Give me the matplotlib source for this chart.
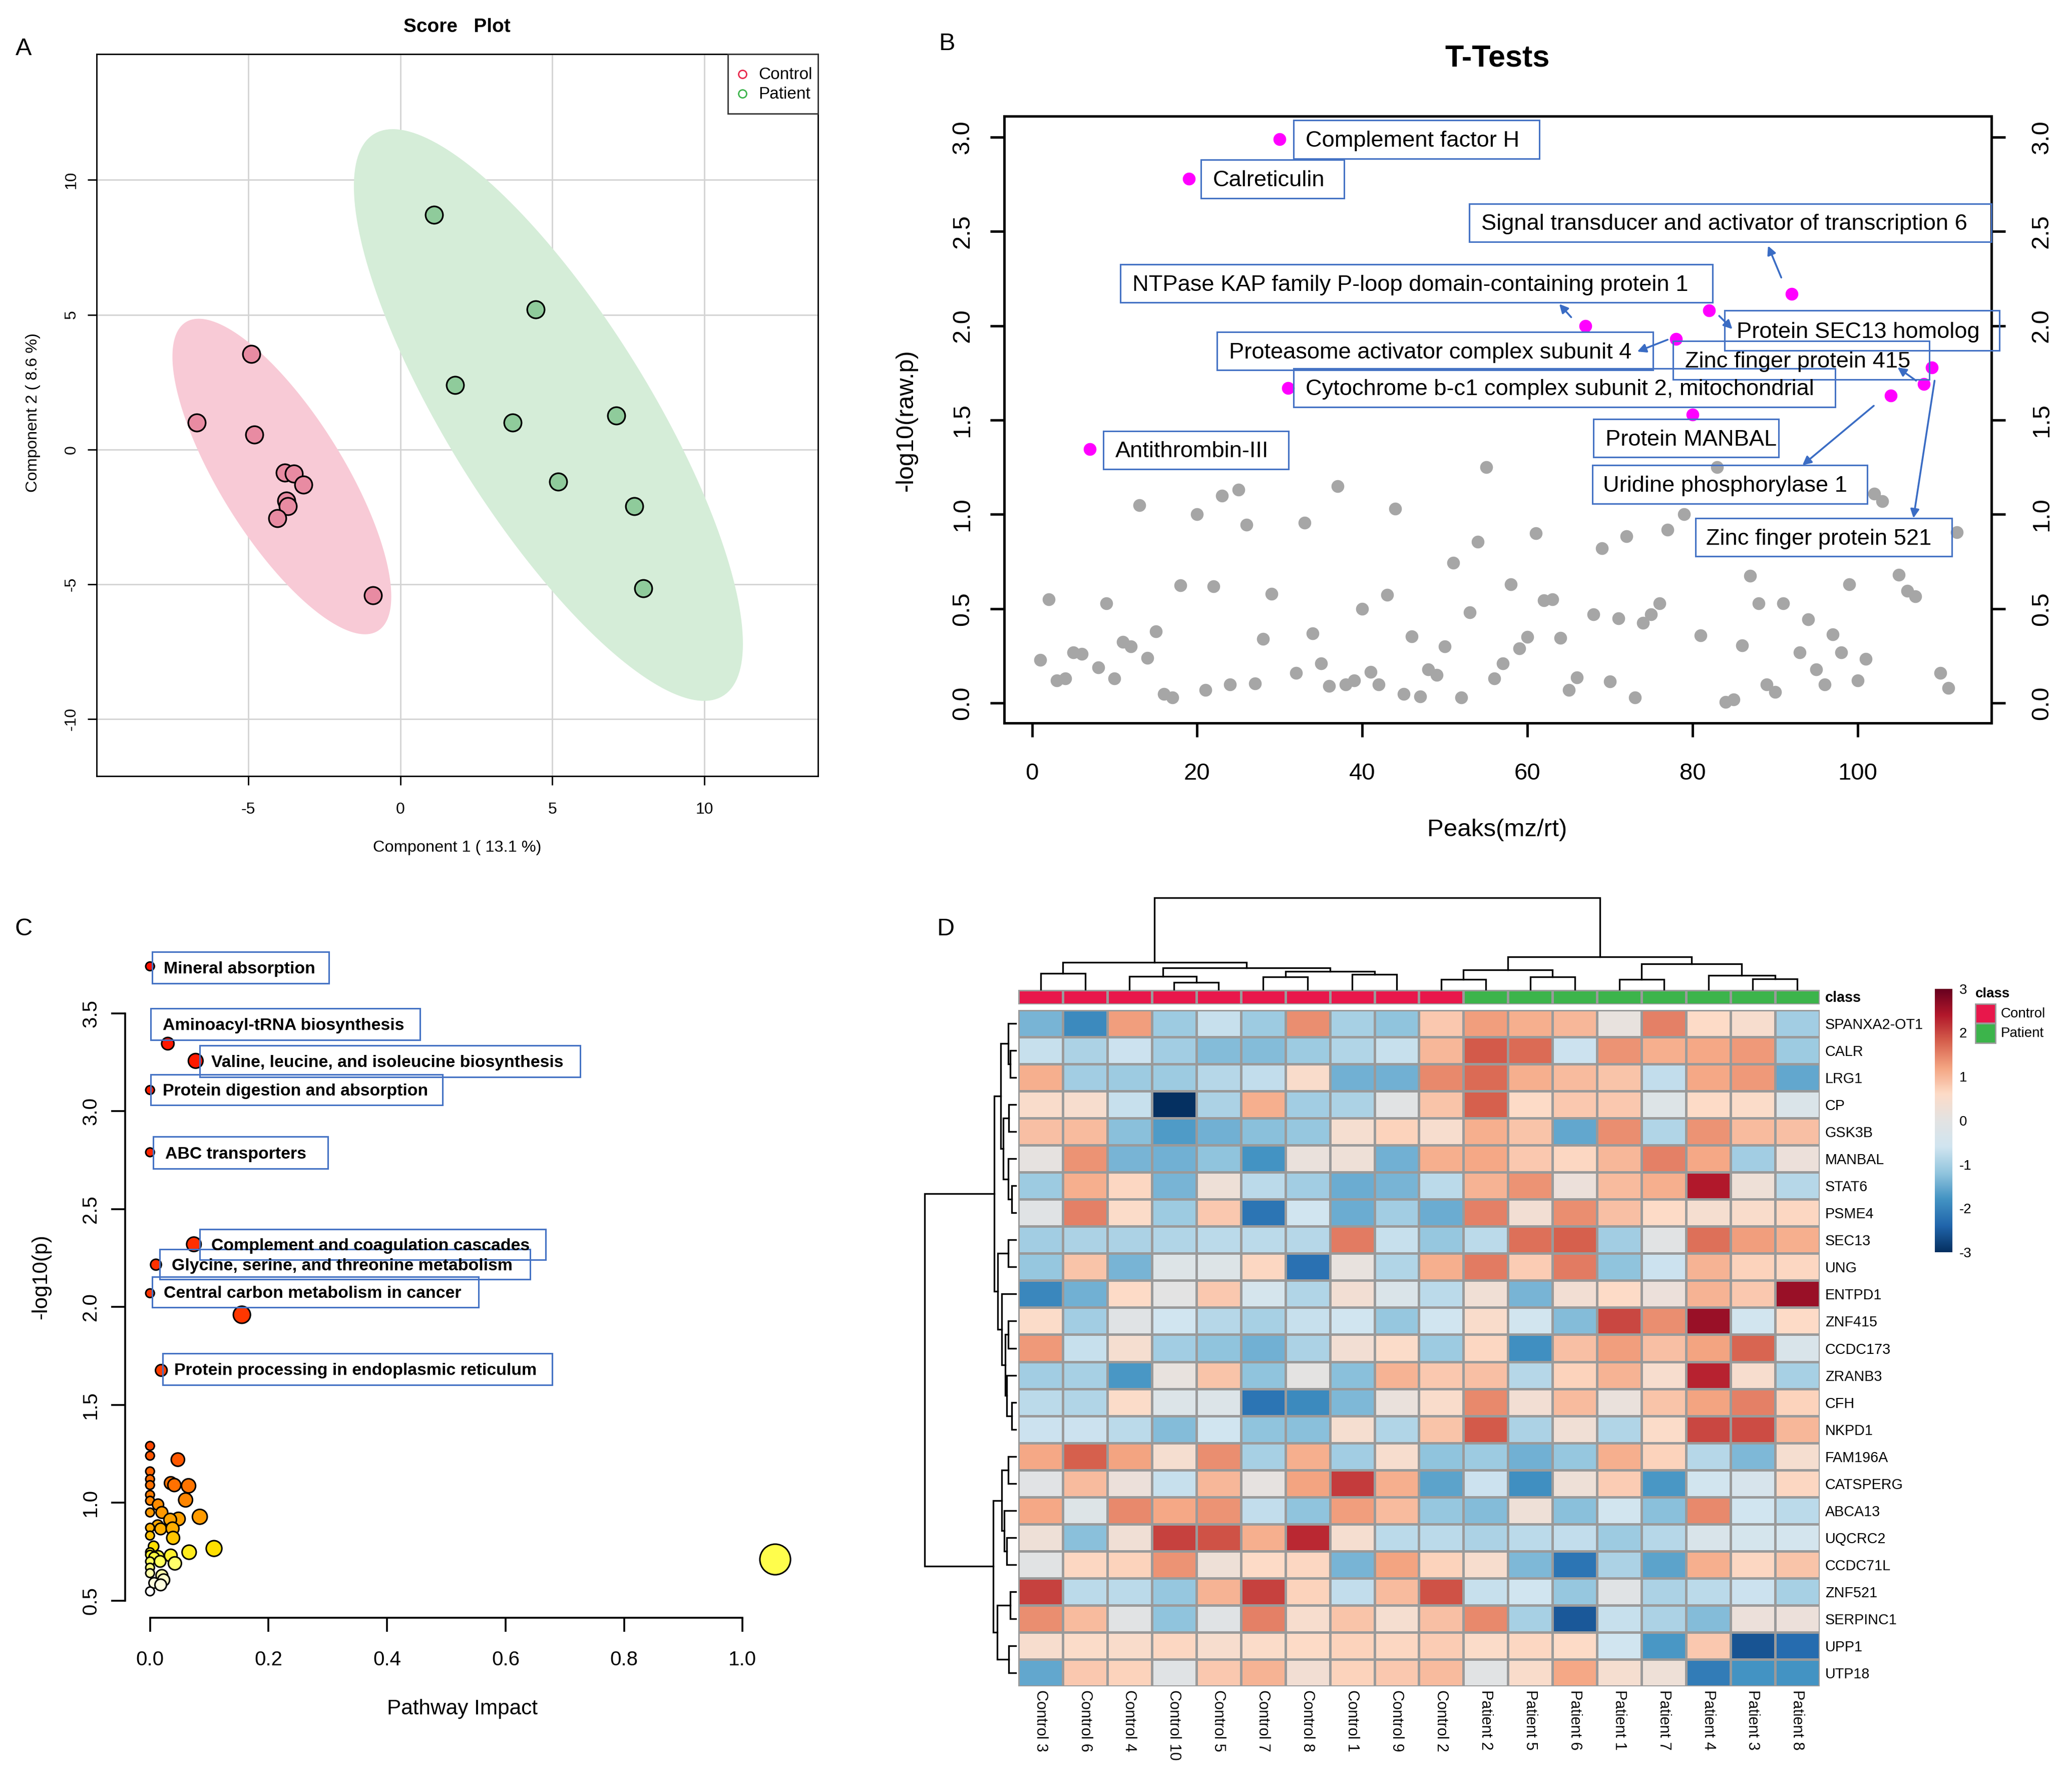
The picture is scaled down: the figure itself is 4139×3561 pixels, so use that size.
#!/usr/bin/env python3
"""Four panel figure: PLS-DA scores, t-tests, pathway impact and a clustered heatmap."""

import matplotlib
matplotlib.use("Agg")
import matplotlib.pyplot as plt
import numpy as np
from matplotlib.colors import LinearSegmentedColormap, Normalize
from matplotlib.patches import Rectangle

plt.rcParams["font.family"] = ["Liberation Sans", "DejaVu Sans"]
plt.rcParams["axes.unicode_minus"] = False

WIDTH, HEIGHT = 1568, 1349  # layout units, 2.64 output pixels each

# panel A
control_x = [-6.7, -4.9, -4.8, -3.8, -3.5, -3.2, -3.75, -3.7, -4.05, -0.9]
control_y = [1.0, 3.55, 0.55, -0.85, -0.9, -1.3, -1.9, -2.1, -2.55, -5.4]
patient_x = [1.1, 4.45, 1.8, 3.7, 7.1, 5.2, 7.7, 8.0]
patient_y = [8.7, 5.2, 2.4, 1.0, 1.25, -1.2, -2.1, -5.15]
# centre x, centre y, half width, half height, correlation
control_ellipse = (-3.9, -1.0, 3.6, 5.85, -0.76)
patient_ellipse = (4.87, 1.28, 6.4, 10.6, -0.8)

# panel B
grey_idx = [1, 2, 3, 4, 5, 6, 8, 9, 10, 11, 12, 13, 14, 15, 16, 17, 18, 20, 21, 22, 23, 24, 25, 26,
            27, 28, 29, 32, 33, 34, 35, 36, 37, 38, 39, 40, 41, 42, 43, 44, 45, 46, 47, 48, 49, 50,
            51, 52, 53, 54, 55, 56, 57, 58, 59, 60, 61, 62, 63, 64, 65, 66, 68, 69, 70, 71, 72, 73,
            74, 75, 76, 77, 79, 81, 83, 84, 85, 86, 87, 88, 89, 90, 91, 93, 94, 95, 96, 97, 98, 99,
            100, 101, 102, 103, 105, 106, 107, 110, 111, 112]
grey_p = [0.23, 0.55, 0.12, 0.13, 0.27, 0.26, 0.19, 0.53, 0.13, 0.325, 0.30, 1.05, 0.24, 0.38, 0.05,
          0.03, 0.625, 1.0, 0.07, 0.62, 1.10, 0.10, 1.13, 0.945, 0.105, 0.34, 0.58, 0.16, 0.955,
          0.37, 0.21, 0.09, 1.15, 0.10, 0.12, 0.50, 0.165, 0.10, 0.575, 1.03, 0.05, 0.355, 0.035,
          0.18, 0.15, 0.30, 0.745, 0.03, 0.48, 0.855, 1.25, 0.13, 0.21, 0.63, 0.29, 0.35, 0.90,
          0.545, 0.55, 0.345, 0.07, 0.135, 0.47, 0.82, 0.115, 0.45, 0.885, 0.03, 0.425, 0.47, 0.53,
          0.92, 1.0, 0.36, 1.25, 0.007, 0.02, 0.305, 0.675, 0.53, 0.10, 0.06, 0.53, 0.27, 0.445,
          0.18, 0.10, 0.365, 0.27, 0.63, 0.12, 0.235, 1.11, 1.07, 0.68, 0.595, 0.565, 0.16, 0.08,
          0.905]
hit_idx = [7, 19, 30, 31, 67, 78, 80, 82, 92, 104, 108, 109]
hit_p = [1.345, 2.78, 2.99, 1.67, 2.0, 1.93, 1.53, 2.08, 2.17, 1.63, 1.69, 1.78]

# box left, top, right, bottom, text left, label
protein_labels = [
    (979, 91, 1165, 120, 988, "Complement factor H"),
    (909, 121, 1017, 150, 918, "Calreticulin"),
    (1112, 154, 1507, 183, 1121, "Signal transducer and activator of transcription 6"),
    (848, 200, 1296, 229, 857, "NTPase KAP family P-loop domain-containing protein 1"),
    (1305, 235, 1513, 265, 1314, "Protein SEC13 homolog"),
    (921, 251, 1251, 280, 930, "Proteasome activator complex subunit 4"),
    (1266, 258, 1460, 287, 1275, "Zinc finger protein 415"),
    (979, 279, 1389, 308, 988, "Cytochrome b-c1 complex subunit 2, mitochondrial"),
    (1206, 317, 1346, 346, 1215, "Protein MANBAL"),
    (1205, 352, 1413, 381, 1213, "Uridine phosphorylase 1"),
    (1283, 392, 1477, 421, 1291, "Zinc finger protein 521"),
    (835, 326, 975, 355, 844, "Antithrombin-III"),
]
protein_arrows = [
    (1348, 210, 1338, 186), (1189, 240, 1180, 230), (1301, 239, 1311, 249),
    (1262, 257, 1239, 266), (1450, 288, 1436, 278), (1418, 307, 1364, 352),
    (1464, 288, 1448, 392),
]

# panel C
impact = [0, 0, 0.047, 0, 0, 0, 0.035, 0.041, 0.065, 0.06, 0, 0, 0.0135, 0, 0.02, 0.048, 0.034,
          0.084, 0.013, 0, 0.018, 0.038, 0, 0.039, 0.006, 0.108, 0.066, 0, 0, 0.014, 0.007, 0.035,
          0.017, 0.042, 0, 0, 0, 0.02, 0.023, 0.007, 0.018, 0, 0, 0.03, 0.077, 0, 0, 0.074, 0.01,
          0, 0.155, 0.019, 1.055]
log_p = [1.29, 1.24, 1.22, 1.16, 1.12, 1.09, 1.10, 1.09, 1.086, 1.014, 1.04, 1.01, 0.99, 0.95,
         0.95, 0.917, 0.913, 0.928, 0.883, 0.872, 0.866, 0.868, 0.832, 0.82, 0.777, 0.766, 0.747,
         0.747, 0.734, 0.726, 0.721, 0.73, 0.70, 0.69, 0.70, 0.668, 0.64, 0.628, 0.605, 0.59,
         0.58, 0.547, 3.74, 3.345, 3.257, 3.108, 2.79, 2.32, 2.216, 2.07, 1.96, 1.676, 0.71]
pathway_labels = [
    (115, 720, 249, 744, 124, "Mineral absorption"),
    (114, 763, 318, 787, 123, "Aminoacyl-tRNA biosynthesis"),
    (151, 791, 439, 815, 160, "Valine, leucine, and isoleucine biosynthesis"),
    (114, 813, 335, 836, 123, "Protein digestion and absorption"),
    (116, 860, 248, 884, 125, "ABC transporters"),
    (151, 930, 413, 953, 160, "Complement and coagulation cascades"),
    (121, 945, 401, 968, 130, "Glycine, serine, and threonine metabolism"),
    (115, 966, 362, 989, 124, "Central carbon metabolism in cancer"),
    (123, 1024, 418, 1048, 132, "Protein processing in endoplasmic reticulum"),
]

# panel D
samples = ["Control 3", "Control 6", "Control 4", "Control 10", "Control 5", "Control 7",
           "Control 8", "Control 1", "Control 9", "Control 2", "Patient 2", "Patient 5",
           "Patient 6", "Patient 1", "Patient 7", "Patient 4", "Patient 3", "Patient 8"]
genes = ["SPANXA2-OT1", "CALR", "LRG1", "CP", "GSK3B", "MANBAL", "STAT6", "PSME4", "SEC13", "UNG",
         "ENTPD1", "ZNF415", "CCDC173", "ZRANB3", "CFH", "NKPD1", "FAM196A", "CATSPERG", "ABCA13",
         "UQCRC2", "CCDC71L", "ZNF521", "SERPINC1", "UPP1", "UTP18"]
z_scores = [
    [-1.4, -1.9, 1.25, -1.1, -0.7, -1.1, 1.4, -1.0, -1.2, 0.8, 1.25, 1.1, 1.0, 0.1, 1.5, 0.6, 0.45, -1.05],
    [-0.7, -0.95, -0.65, -1.05, -1.3, -1.3, -1.1, -0.9, -0.7, 1.0, 1.85, 1.7, -0.65, 1.35, 1.1, 1.15, 1.3, -1.1],
    [1.1, -1.05, -1.1, -1.1, -0.85, -0.75, 0.5, -1.45, -1.45, 1.45, 1.7, 1.1, 0.95, 0.85, -0.75, 1.15, 1.3, -1.55],
    [0.5, 0.45, -0.7, -3.0, -0.95, 1.1, -1.05, -0.95, -0.05, 0.85, 1.8, 0.6, 0.8, 0.8, -0.2, 0.6, 0.55, -0.3],
    [0.9, 0.95, -1.25, -1.7, -1.45, -1.25, -1.15, 0.4, 0.7, 0.45, 1.1, 0.85, -1.55, 1.4, -0.9, 1.35, 0.95, 0.9],
    [0.05, 1.35, -1.4, -1.45, -1.2, -1.8, 0.15, 0.25, -1.45, 1.1, 1.15, 0.8, 0.65, 1.0, 1.5, 1.15, -1.05, 0.2],
    [-1.1, 1.1, 0.65, -1.4, 0.25, -0.8, -1.05, -1.5, -1.4, -0.8, 1.05, 1.35, 0.2, 0.95, 1.1, 2.4, 0.25, -0.85],
    [-0.1, 1.5, 0.55, -1.1, 0.8, -2.2, -0.6, -1.5, -1.05, -1.5, 1.5, 0.35, 1.4, 0.9, 0.6, 0.4, 0.5, 0.65],
    [-1.05, -0.95, -0.95, -0.9, -0.8, -0.8, -0.85, 1.55, -0.7, -1.15, -0.8, 1.65, 1.8, -1.05, -0.05, 1.65, 1.25, 1.1],
    [-1.15, 0.85, -1.4, -0.2, -0.2, 0.65, -2.25, 0.1, -0.9, 1.1, 1.55, 0.75, 1.55, -1.2, -0.65, 1.05, 0.7, 0.65],
    [-1.95, -1.45, 0.6, -0.02, 0.8, -0.45, -0.9, 0.35, -0.3, -0.8, 0.3, -1.4, 0.35, 0.6, 0.2, 1.05, 0.8, 2.6],
    [0.55, -1.05, -0.1, -0.6, -0.85, -1.0, -0.7, -0.6, -1.15, -0.6, 0.5, -0.55, -1.3, 2.0, 1.4, 2.6, -0.55, 0.6],
    [1.3, -0.7, 0.4, -1.05, -1.2, -1.45, -0.95, 0.35, 0.55, -1.1, 0.65, -1.85, 0.9, 1.25, 0.9, 1.2, 1.75, -0.35],
    [-1.05, -1.0, -1.75, 0.1, 0.85, -1.2, 0.02, -1.25, 1.05, 0.8, 0.9, -0.85, 0.7, 1.05, 0.45, 2.3, 0.45, -1.0],
    [-0.8, -0.9, 0.55, -0.25, -0.25, -2.2, -1.9, -1.35, 0.15, 0.5, 1.45, 0.35, 0.95, 0.15, 0.85, 1.2, 1.5, 0.7],
    [-0.65, -0.65, -0.8, -1.3, -0.6, -1.2, -1.25, 0.4, -0.9, 0.85, 1.85, -0.95, 0.3, -0.9, 0.55, 2.0, 1.95, 1.0],
    [1.15, 1.8, 1.2, 0.4, 1.4, -1.0, 1.1, -1.05, 0.45, -1.2, -1.1, -1.45, -1.15, 1.1, 0.7, -0.85, -1.35, 0.4],
    [-0.08, 0.95, 0.2, -0.7, 1.0, 0.05, 1.2, 2.1, 1.1, -1.6, -0.65, -1.85, 0.25, 0.75, -1.75, -0.55, -0.4, 0.65],
    [1.15, -0.2, 1.45, 1.15, 1.35, -0.75, -1.2, 1.25, 0.95, -1.15, -1.3, 0.25, -1.25, -0.55, -1.25, 1.45, -0.6, -0.8],
    [0.25, -1.25, 0.3, 2.05, 1.9, 1.1, 2.25, 0.4, -0.8, -0.8, -0.95, -0.8, -0.75, -1.1, -0.85, -0.35, -0.45, -0.5],
    [-0.05, 0.65, 0.7, 1.35, 0.25, 0.6, 0.65, -1.4, 1.2, 0.7, 0.45, -1.35, -2.2, -0.95, -1.6, 1.1, 0.65, 0.85],
    [2.05, -0.8, -0.8, -1.15, 1.05, 2.05, 0.7, -0.75, 0.95, 1.9, -0.7, -0.6, -1.15, -0.1, -0.95, -0.8, -0.65, -1.0],
    [1.4, 0.95, -0.05, -1.2, -0.1, 1.5, 0.45, 0.85, 0.4, 0.9, 1.45, -1.0, -2.55, -0.7, -0.95, -1.3, 0.2, 0.2],
    [0.45, 0.55, 0.5, 0.65, 0.45, 0.55, 0.6, 0.7, 0.65, 0.75, 0.55, 0.65, 0.6, -0.6, -1.75, 0.8, -2.6, -2.3],
    [-1.55, 0.8, 0.7, -0.1, 0.8, 1.05, 0.35, 0.7, 0.8, 0.95, -0.05, 0.5, 1.15, 0.4, 0.25, -2.1, -1.8, -1.8],
]
# dendrograms: child, child, merge height. Node ids continue after the leaves.
column_tree = [
    (0, 1, 12.1), (3, 4, 5.6), (2, 19, 10.1), (5, 6, 9.7), (7, 8, 11.4), (21, 22, 13.8),
    (20, 23, 16.4), (18, 24, 20.5), (9, 10, 7.7), (11, 12, 9.7), (26, 27, 15), (13, 14, 7.7),
    (16, 17, 8.2), (15, 30, 10.6), (29, 31, 19.3), (28, 32, 24.6), (25, 33, 69.6),
]
row_tree = [
    (1, 2, 4), (0, 25, 5.65), (3, 4, 5.1), (6, 7, 2.8), (5, 28, 5.65), (27, 29, 9.6),
    (26, 30, 11.3), (8, 9, 5.65), (11, 12, 5.65), (14, 15, 2.8), (13, 34, 6.8), (33, 35, 7.9),
    (10, 36, 10.5), (32, 37, 13.6), (31, 38, 16.4), (16, 17, 5.65), (19, 20, 6.8), (18, 41, 8.5),
    (40, 42, 10.7), (21, 22, 4), (23, 24, 5.1), (44, 45, 14.1), (43, 46, 17), (39, 47, 68.9),
]


def panel_axes(fig, left, top, right, bottom):
    return fig.add_axes([left / WIDTH, 1 - bottom / HEIGHT,
                         (right - left) / WIDTH, (bottom - top) / HEIGHT])


def ellipse_outline(cx, cy, hx, hy, rho):
    t = np.linspace(0, 2 * np.pi, 200)
    return cx + hx * np.cos(t), cy + hy * np.cos(t - np.arccos(rho))


def label_boxes(ov, labels, size, weight="normal"):
    for x0, y0, x1, y1, tx, name in labels:
        ov.add_patch(Rectangle((x0, y0), x1 - x0, y1 - y0, fc="none", ec="#4472C4", lw=2.2))
        ov.text(tx, (y0 + y1) / 2 + 1.2, name, fontsize=size, fontweight=weight, va="center")


def draw_score_plot(fig, ov):
    ax = panel_axes(fig, 73, 41, 619, 587)
    ax.set_xlim(-10, 13.74)
    ax.set_ylim(-12.1, 14.66)
    ax.grid(True, color="#D3D3D3", lw=2)
    ax.set_axisbelow(True)
    ax.fill(*ellipse_outline(*control_ellipse), color="#F8CAD6", lw=0, zorder=1.5)
    ax.fill(*ellipse_outline(*patient_ellipse), color="#D5EDD8", lw=0, zorder=1.5)
    ax.scatter(control_x, control_y, s=620, c="#E88BA2", edgecolors="black", lw=2.4, zorder=3)
    ax.scatter(patient_x, patient_y, s=620, c="#8FCB9B", edgecolors="black", lw=2.4, zorder=3)
    ax.set_xticks([-5, 0, 5, 10])
    ax.set_yticks([-10, -5, 0, 5, 10])
    ax.tick_params(labelsize=23, length=13, width=2, pad=12)
    ax.tick_params(axis="x", pad=25)
    for t in ax.get_yticklabels():
        t.set(rotation=90, va="center")
    for s in ax.spines.values():
        s.set_linewidth(2)
    # legend box sits in the panel corner
    ov.add_patch(Rectangle((551, 41), 68, 45, fc="white", ec="#333333", lw=2))
    for y, colour, name in ((56, "#E8274B", "Control"), (71, "#3CB44B", "Patient")):
        ov.plot([562], [y], ls="", marker="o", ms=11.5, mfc="none", mew=2, mec=colour)
        ov.text(574, y + 0.5, name, fontsize=24, va="center")
    ov.text(346, 20.5, "Score   Plot", fontsize=28, fontweight="bold", ha="center", va="center")
    ov.text(346, 641.5, "Component 1 ( 13.1 %)", fontsize=23.4, ha="center", va="center")
    ov.text(25, 312, "Component 2 ( 8.6 %)", fontsize=23.4, rotation=90, ha="center", va="center")


def draw_ttests(fig, ov):
    ax = panel_axes(fig, 760, 88, 1507, 547)
    ax.set_xlim(-3.36, 116.2)
    ax.set_ylim(-0.105, 3.11)
    ax.scatter(grey_idx, grey_p, s=340, c="#A6A6A6", lw=0)
    ax.scatter(hit_idx, hit_p, s=340, c="#FF00FF", lw=0)
    ax.set_xticks(range(0, 101, 20))
    ax.set_yticks(np.arange(0, 3.01, 0.5))
    ax.tick_params(axis="x", labelsize=34, length=20, width=3.5, pad=37)
    ax.tick_params(axis="y", labelsize=35, length=20, width=3.5, pad=24)
    for t in ax.get_yticklabels():
        t.set(rotation=90, va="center")
    right = ax.secondary_yaxis("right")
    right.set_yticks(np.arange(0, 3.01, 0.5))
    right.tick_params(labelsize=35, length=20, width=3.5, pad=36)
    for t in right.get_yticklabels():
        t.set(rotation=90, va="center")
    right.spines["right"].set_linewidth(3.5)
    for s in ax.spines.values():
        s.set_linewidth(3.5)
    ov.text(1133, 44.5, "T-Tests", fontsize=44, fontweight="bold", ha="center", va="center")
    ov.text(1133, 628, "Peaks(mz/rt)", fontsize=35.5, ha="center", va="center")
    ov.text(686, 318, "-log10(raw.p)", fontsize=35, rotation=90, ha="center", va="center")
    label_boxes(ov, protein_labels, 32.6)
    for x0, y0, x1, y1 in protein_arrows:
        ov.annotate("", xy=(x1, y1), xytext=(x0, y0),
                    arrowprops=dict(arrowstyle="-|>", color="#3A6CC4", lw=2.6,
                                    mutation_scale=26, shrinkA=0, shrinkB=0))


def draw_pathways(fig, ov):
    ax = panel_axes(fig, 94.7, 700, 640, 1224)
    ax.set_xlim(-0.042, 1.174)
    ax.set_ylim(0.412, 3.95)
    heat = LinearSegmentedColormap.from_list(
        "heat", [(0, "#FFFFFF"), (0.02, "#FFFFC8"), (0.05, "#FFFF50"), (0.07, "#FFE000"),
                 (0.1, "#FFB000"), (0.15, "#FF8000"), (0.24, "#FF4500"), (1, "#FF1000")])
    radius = (26 + 64 * np.sqrt(impact)) / 7.92  # layout units
    sizes = (2 * radius * 2.64 * 0.72) ** 2
    ax.scatter(impact, log_p, s=sizes, c=log_p, cmap=heat, norm=Normalize(0.54, 3.74),
               edgecolors="black", lw=2.2, clip_on=False)
    for name in ("top", "right"):
        ax.spines[name].set_visible(False)
    ax.spines["left"].set_bounds(0.5, 3.5)
    ax.spines["bottom"].set_bounds(0, 1)
    ax.spines["left"].set_linewidth(2.6)
    ax.spines["bottom"].set_linewidth(2.6)
    ax.patch.set_alpha(0)
    ax.set_xticks([0, 0.2, 0.4, 0.6, 0.8, 1.0])
    ax.set_yticks([0.5, 1, 1.5, 2, 2.5, 3, 3.5])
    ax.tick_params(labelsize=29, length=20, width=2.6, pad=16)
    ax.tick_params(axis="x", pad=27)
    for t in ax.get_yticklabels():
        t.set(rotation=90, va="center")
    ov.text(350, 1293, "Pathway Impact", fontsize=30.5, ha="center", va="center")
    ov.text(31, 966, "-log10(p)", fontsize=30.5, rotation=90, ha="center", va="center")
    label_boxes(ov, pathway_labels, 24.4, "bold")


def draw_tree(ax, tree, n_leaves, vertical):
    pos = {i: (i + 0.5, 0.0) for i in range(n_leaves)}
    for k, (a, b, h) in enumerate(tree):
        pa, ha = pos[a]
        pb, hb = pos[b]
        along = [pa, pa, pb, pb]
        depth = [ha, h, h, hb]
        if vertical:
            ax.plot(along, depth, color="black", lw=2.4, solid_joinstyle="miter", clip_on=False)
        else:
            ax.plot(depth, along, color="black", lw=2.4, solid_joinstyle="miter", clip_on=False)
        pos[n_leaves + k] = ((pa + pb) / 2, h)
    ax.axis("off")


def draw_heatmap(fig, ov):
    left, right, top, bottom = 770.6, 1377, 764, 1276
    cmap = LinearSegmentedColormap.from_list(
        "rdbu", ["#053061", "#2166AC", "#4393C3", "#92C5DE", "#D1E5F0", "#E3E3E3", "#FDDBC7",
                 "#F4A582", "#D6604D", "#B2182B", "#67001F"])
    ax = panel_axes(fig, left, top, right, bottom)
    ax.pcolormesh(np.array(z_scores), cmap=cmap, vmin=-3, vmax=3, edgecolors="#9A9A9A", lw=2.2)
    ax.set_ylim(len(genes), 0)
    ax.set_xticks(np.arange(len(samples)) + 0.5, samples, rotation=-90, fontsize=22)
    ax.set_yticks(np.arange(len(genes)) + 0.5, genes, fontsize=20.7)
    ax.yaxis.tick_right()
    ax.tick_params(length=0, pad=8)
    ax.tick_params(axis="x", pad=5)
    for s in ax.spines.values():
        s.set_visible(False)

    bar = panel_axes(fig, left, 749, right, 760)
    bar.pcolormesh(np.array([[0] * 10 + [1] * 8]), edgecolors="#9A9A9A", lw=2.2,
                   cmap=LinearSegmentedColormap.from_list("cls", ["#E8174B", "#3CB44B"]))
    bar.axis("off")
    ov.text(1381, 755, "class", fontsize=20.7, fontweight="bold", va="center")

    top_tree = panel_axes(fig, left, 678, right, 748.7)
    top_tree.set_xlim(0, len(samples))
    top_tree.set_ylim(0, 70.7)
    draw_tree(top_tree, column_tree, len(samples), True)

    side = panel_axes(fig, 700, top, left - 2, bottom)
    side.set_ylim(len(genes), 0)
    side.set_xlim(68.6, 0)
    draw_tree(side, row_tree, len(genes), False)

    cax = panel_axes(fig, 1464.3, 748, 1477.3, 947.5)
    cax.imshow(np.linspace(3, -3, 256)[:, None], aspect="auto", cmap=cmap, extent=(0, 1, -3, 3))
    cax.set_xticks([])
    cax.set_yticks(range(-3, 4))
    cax.yaxis.tick_right()
    cax.tick_params(length=0, labelsize=20, pad=10)
    for s in cax.spines.values():
        s.set_visible(False)

    ov.text(1495, 752, "class", fontsize=20, fontweight="bold", va="center")
    for y, colour, name in ((759.5, "#E8174B", "Control"), (774.5, "#3CB44B", "Patient")):
        ov.add_patch(Rectangle((1495, y), 15, 14.5, fc=colour, ec="#9A9A9A", lw=2))
        ov.text(1514, y + 7.5, name, fontsize=20, va="center")


def main():
    fig = plt.figure(figsize=(41.39, 35.61), dpi=100)
    ov = fig.add_axes([0, 0, 1, 1], zorder=5)
    ov.set_xlim(0, WIDTH)
    ov.set_ylim(HEIGHT, 0)
    ov.axis("off")

    draw_score_plot(fig, ov)
    draw_ttests(fig, ov)
    draw_pathways(fig, ov)
    draw_heatmap(fig, ov)

    for x, y, letter in ((18, 37, "A"), (717, 33, "B"), (18, 703, "C"), (716, 703, "D")):
        ov.text(x, y, letter, fontsize=35, ha="center", va="center")
    fig.savefig("out.png", dpi=100)


if __name__ == "__main__":
    main()
